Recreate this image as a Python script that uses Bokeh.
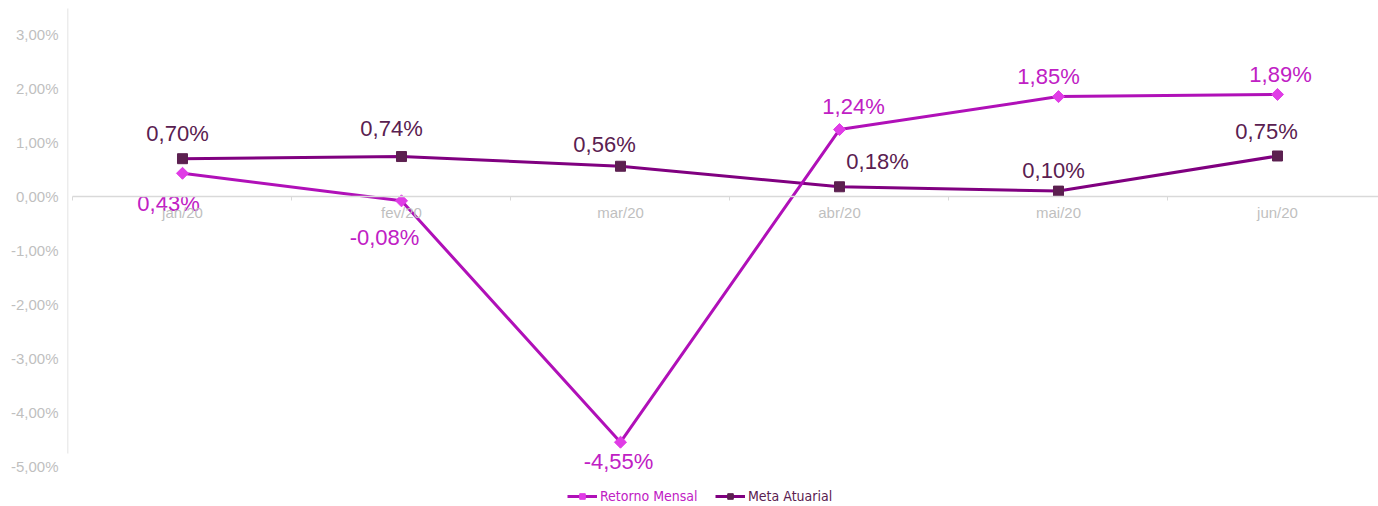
from bokeh.plotting import figure
from bokeh.models import (ColumnDataSource, Range1d, LinearAxis, FixedTicker,
                          Legend, LegendItem)
from bokeh.core.properties import value
from bokeh.embed import file_html
from bokeh.resources import INLINE
import math

# ---- data ----
months = ["jan/20", "fev/20", "mar/20", "abr/20", "mai/20", "jun/20"]
retorno_mensal = [0.43, -0.08, -4.55, 1.24, 1.85, 1.89]
meta_atuarial = [0.70, 0.74, 0.56, 0.18, 0.10, 0.75]
y_ticks = [-5, -4, -3, -2, -1, 0, 1, 2, 3]
y_tick_labels = ["-5,00%", "-4,00%", "-3,00%", "-2,00%", "-1,00%",
                 "0,00%", "1,00%", "2,00%", "3,00%"]

# label placement (screen px offsets, styling only)
ret_dx = [-14, -17, -2, 14, -10, 3]
ret_dy = [30, 37, 19, -23, -20, -20]
meta_dx = [-5, -10, -16, 38, -5, -11]
meta_dy = [-25, -28, -22, -25, -21, -24]

def fmt(v):
    return ("%.2f%%" % v).replace(".", ",")

xs = list(range(len(months)))
src_ret = ColumnDataSource(dict(x=xs, y=retorno_mensal,
                                lbl=[fmt(v) for v in retorno_mensal],
                                dx=ret_dx, dy=ret_dy))
src_meta = ColumnDataSource(dict(x=xs, y=meta_atuarial,
                                 lbl=[fmt(v) for v in meta_atuarial],
                                 dx=meta_dx, dy=meta_dy))

FONT = "Liberation Sans, Arial, sans-serif"
GRAY = "#bfbfbf"
LINEC = "#d9d9d9"

X0, X1 = -0.5251, 5.4612
Y0, Y1 = -5.7407, 3.6296

p = figure(width=1378, height=506, output_backend="svg", toolbar_location=None,
           x_range=Range1d(X0, X1), y_range=Range1d(Y0, Y1),
           min_border_left=67, min_border_right=0, min_border_top=0,
           min_border_bottom=0, x_axis_location=None, y_axis_location=None)
p.grid.visible = False
p.outline_line_color = None
p.background_fill_color = "white"
p.border_fill_color = "white"

# y axis labels
yax = LinearAxis(ticker=FixedTicker(ticks=y_ticks),
                 major_label_overrides={t: l for t, l in zip(y_ticks, y_tick_labels)},
                 axis_line_color=None, major_tick_line_color=None,
                 minor_tick_line_color=None, major_tick_out=0, major_tick_in=0,
                 major_label_standoff=9, major_label_text_color=GRAY,
                 major_label_text_font=FONT, major_label_text_font_size="15px")
p.add_layout(yax, "left")
# y axis line
yline = LinearAxis(fixed_location=X0, bounds=(-4.75, 3.4815),
                   ticker=FixedTicker(ticks=[]), axis_line_color=LINEC,
                   axis_line_width=1.5,
                   major_tick_line_color=None, minor_tick_line_color=None)
p.add_layout(yline, "left")

# x axis at zero: labels on categories, separators as minor ticks
xax = LinearAxis(fixed_location=0, bounds=(-0.5, 6.0),
                 ticker=FixedTicker(ticks=xs,
                                    minor_ticks=[i - 0.5 for i in range(len(months) + 1)]),
                 major_label_overrides={i: m for i, m in enumerate(months)},
                 axis_line_color=LINEC, axis_line_width=1.5,
                 major_tick_line_color=None, major_tick_out=0, major_tick_in=0,
                 minor_tick_line_color=LINEC, minor_tick_out=4, minor_tick_in=0,
                 major_label_standoff=4, major_label_text_color=GRAY,
                 major_label_text_font=FONT, major_label_text_font_size="15px")
p.add_layout(xax, "below")

# series
meta_line = p.line("x", "y", source=src_meta, line_color="#800080", line_width=3)
meta_pts = p.scatter("x", "y", source=src_meta, marker="square", size=10,
                     fill_color="#5c2050", line_color="#5c2050")
ret_line = p.line("x", "y", source=src_ret, line_color="#b010b8", line_width=3)
ret_pts = p.scatter("x", "y", source=src_ret, marker="square", size=8.5,
                    angle=math.pi / 4, fill_color="#e03ce6", line_color="#e03ce6")

p.text("x", "y", text="lbl", source=src_meta, x_offset="dx", y_offset="dy",
       text_align="center", text_baseline="middle", text_color="#5a2050",
       text_font=value(FONT), text_font_size="22px")
p.text("x", "y", text="lbl", source=src_ret, x_offset="dx", y_offset="dy",
       text_align="center", text_baseline="middle", text_color="#c020c4",
       text_font=value(FONT), text_font_size="22px")

LFONT = "Liberation Sans Narrow, DejaVu Sans Condensed, Liberation Sans, sans-serif"
common = dict(orientation="horizontal", glyph_width=30, glyph_height=14,
              label_height=14, label_standoff=3, padding=0, margin=0,
              border_line_color=None, background_fill_alpha=0,
              label_text_font=LFONT, label_text_font_size="14px")
leg1 = Legend(items=[LegendItem(label="Retorno Mensal", renderers=[ret_line, ret_pts])],
              location=(500, 2), label_text_color="#c020c4", **common)
leg2 = Legend(items=[LegendItem(label="Meta Atuarial", renderers=[meta_line, meta_pts])],
              location=(648, 2), label_text_color="#5a2050", **common)
p.add_layout(leg1)
p.add_layout(leg2)

open("out.html", "w").write(file_html(p, INLINE))
